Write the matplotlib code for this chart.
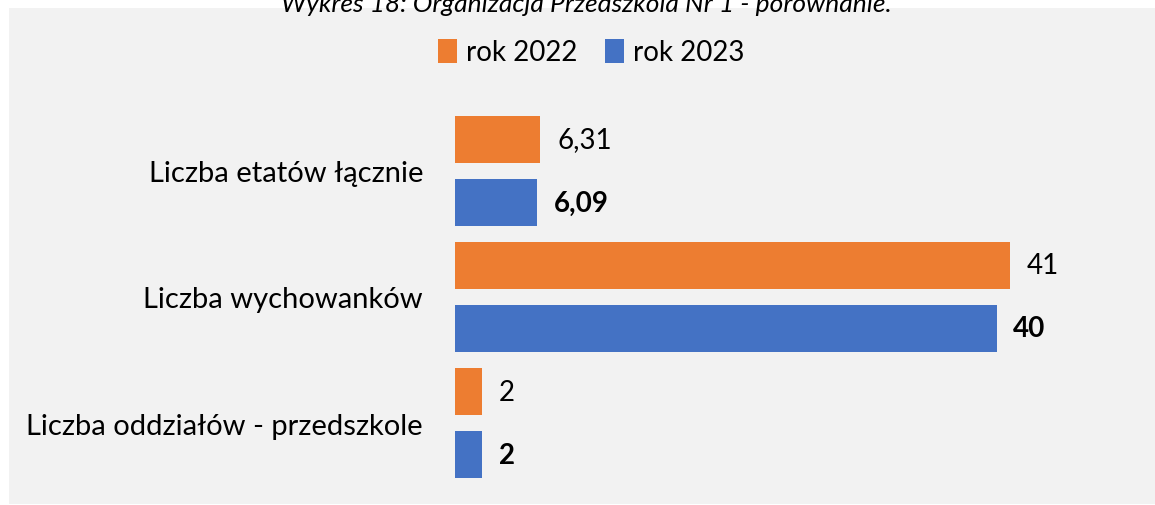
import matplotlib

matplotlib.use("Agg")
import matplotlib.pyplot as plt
from matplotlib.patches import Patch, Rectangle

plt.rcParams["font.family"] = ["Lato", "DejaVu Sans"]

title = "Wykres 18: Organizacja Przedszkola Nr 1 - porównanie."
categories = ["Liczba etatów łącznie", "Liczba wychowanków", "Liczba oddziałów - przedszkole"]
series_names = ["rok 2022", "rok 2023"]
values_2022 = [6.31, 41, 2]
values_2023 = [6.09, 40, 2]
colors = ["#ED7D31", "#4472C4"]

W, H = 1155, 506
figure = plt.figure(figsize=(W / 100, H / 100), dpi=100)
figure.patches.append(Rectangle((9 / W, 1 - 505 / H), 1, (505 - 9) / H, transform=figure.transFigure,
                                facecolor="#F2F2F2", edgecolor="none", zorder=-10))
figure.text(586 / W, 1 - 12 / H, title, ha="center", va="baseline", fontsize=19, style="italic")

axis = figure.add_axes([455 / W, 1 - 500 / H, 677 / W, 400 / H])
axis.set_facecolor("none")
positions = list(range(len(categories)))
height = 0.373
for offset, vals, color, weight in ((-0.25, values_2022, colors[0], "normal"), (0.25, values_2023, colors[1], "bold")):
    ys = [p + offset for p in positions]
    axis.barh(ys, vals, height=height, color=color)
    for y, v in zip(ys, vals):
        axis.annotate(f"{v:g}".replace(".", ","), (v, y), xytext=(12, 0), textcoords="offset points",
                      va="center", ha="left", fontsize=20, fontweight=weight)

axis.set_xlim(0, 50)
axis.set_ylim(2.603, -0.571)
axis.set_yticks(positions)
axis.set_yticklabels(categories, fontsize=21)
axis.tick_params(axis="y", length=0, pad=23)
axis.set_xticks([])
for spine in axis.spines.values():
    spine.set_visible(False)

handles = [Patch(facecolor=c, edgecolor="none") for c in colors]
figure.legend(handles, series_names, loc="center", bbox_to_anchor=(591 / W, 1 - 53 / H), ncol=2, frameon=False,
              fontsize=20, handlelength=0.7, handleheight=1.0, handletextpad=0.3, columnspacing=1.0)

figure.savefig("out.png", dpi=100)
plt.close(figure)
